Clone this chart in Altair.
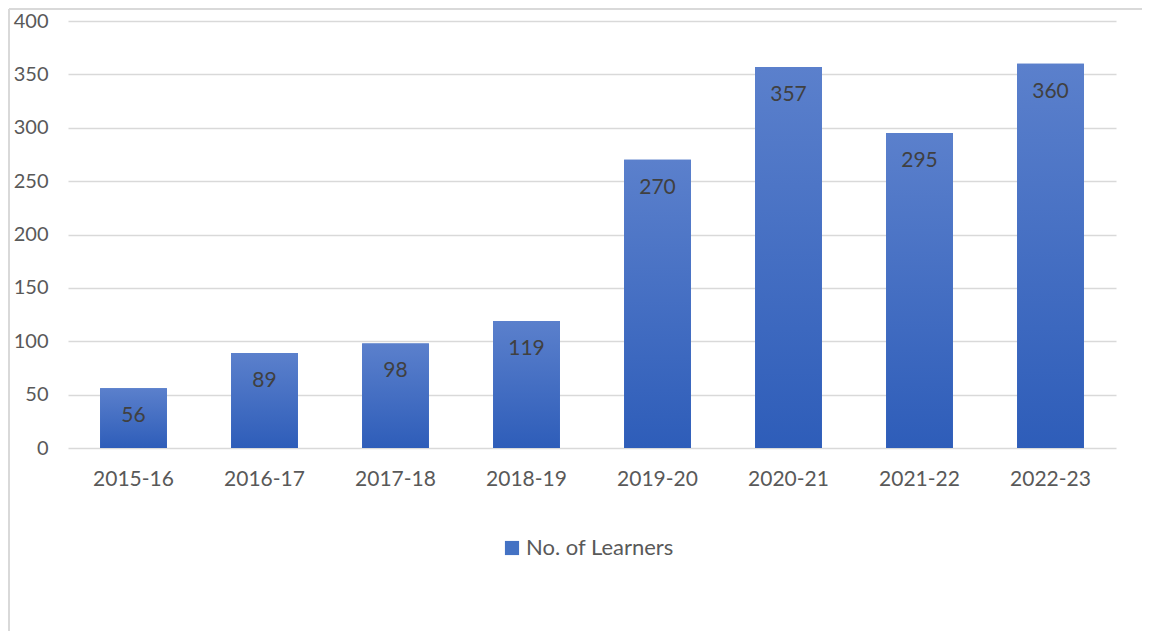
import altair as alt
import pandas as pd

years = ["2015-16", "2016-17", "2017-18", "2018-19", "2019-20", "2020-21", "2021-22", "2022-23"]
learners = [56, 89, 98, 119, 270, 357, 295, 360]
series_name = "No. of Learners"
y_ticks = [0, 50, 100, 150, 200, 250, 300, 350, 400]

df = pd.DataFrame({"year": years, "value": learners, "series": [series_name] * len(years)})

FONT = "Lato"
GRAY = "#595959"

x_enc = alt.X("year:N", sort=years, title=None,
              axis=alt.Axis(labelAngle=0, labelFontSize=21, labelColor=GRAY, labelFont=FONT,
                            ticks=False, domain=False, labelPadding=20),
              scale=alt.Scale(paddingInner=0.49, paddingOuter=0.245))
y_enc = alt.Y("value:Q", title=None, scale=alt.Scale(domain=[0, 400], nice=False),
              axis=alt.Axis(values=y_ticks, labelFontSize=20, labelColor=GRAY, labelFont=FONT,
                            ticks=False, domain=False, labelPadding=20,
                            gridColor="#D9D9D9", gridWidth=1.3))

legend_bars = alt.Chart(df).mark_bar().encode(
    x=x_enc, y=y_enc,
    color=alt.Color("series:N", title=None,
                    scale=alt.Scale(range=["#4472C4"]),
                    legend=alt.Legend(orient="none", legendX=433, legendY=516,
                                      symbolType="square", symbolSize=200,
                                      symbolStrokeWidth=0, symbolOpacity=1,
                                      labelFontSize=22, labelColor=GRAY, labelFont=FONT,
                                      labelOffset=3)),
)

grad = alt.LinearGradient(
    gradient="linear", x1=0, y1=0, x2=0, y2=1,
    stops=[alt.GradientStop(offset=0, color="#5B80CC"),
           alt.GradientStop(offset=1, color="#2E5DB9")],
)
bars = alt.Chart(df).mark_bar(color=grad).encode(x=x_enc, y=y_enc)

labels = alt.Chart(df).mark_text(dy=28, fontSize=21, color="#404040", font=FONT,
                                  baseline="middle").encode(
    x=alt.X("year:N", sort=years), y="value:Q", text="value:Q")

border_left = alt.Chart(df).mark_rule(color="#D9D9D9", strokeWidth=2).encode(
    x=alt.value(-59), y=alt.value(-12), y2=alt.value(700))
border_top = alt.Chart(df).mark_rule(color="#D9D9D9", strokeWidth=2).encode(
    x=alt.value(-59), x2=alt.value(1200), y=alt.value(-12))

chart = alt.layer(legend_bars, bars, labels, border_left, border_top).properties(
    width=1048, height=427,
    autosize=alt.AutoSizeParams(type="none"),
    padding={"left": 60, "top": 13, "right": 26, "bottom": 183},
).configure(background="white").configure_view(stroke="transparent", strokeWidth=0)

chart.save("out.html", embed_options={"renderer": "svg", "actions": False})
